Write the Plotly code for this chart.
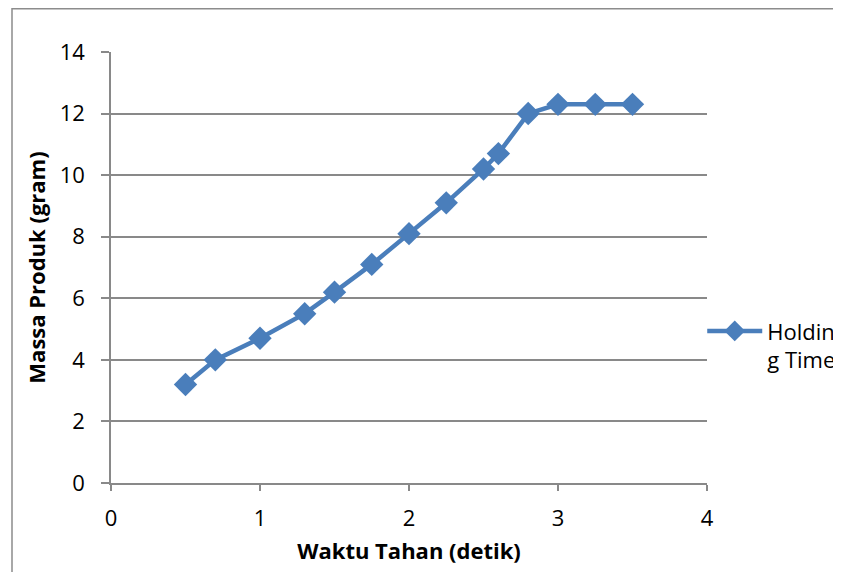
import plotly.graph_objects as go

waktu = [0.5, 0.7, 1.0, 1.3, 1.5, 1.75, 2.0, 2.25, 2.5, 2.6, 2.8, 3.0, 3.25, 3.5]
massa = [3.2, 4.0, 4.7, 5.5, 6.2, 7.1, 8.1, 9.1, 10.2, 10.7, 12.0, 12.3, 12.3, 12.3]
series_name = "Holdin<br>g Time"

W, H = 841, 572
L, T = 103, 44
pw, ph = 596, 431
R, B = W - L - pw, H - T - ph

fig = go.Figure()
fig.add_trace(go.Scatter(
    x=waktu, y=massa, name=series_name, mode="lines+markers",
    line=dict(color="#4a7ebb", width=4.5),
    marker=dict(symbol="diamond", size=18, color="#4a7ebb"),
    showlegend=True,
))

grid = "#898989"
fnt = "Open Sans, Lato, sans-serif"
fig.update_layout(
    width=W, height=H,
    margin=dict(l=L, r=R, t=T, b=B, autoexpand=False),
    paper_bgcolor="white", plot_bgcolor="white",
    font=dict(family=fnt, color="black", size=22),
    xaxis=dict(range=[0, 4], dtick=1, showgrid=False, zeroline=False,
               showline=True, linecolor=grid, linewidth=1.5,
               ticks="outside", ticklen=6, tickcolor=grid, tickwidth=1.5,
               tickfont=dict(size=22), ticklabelstandoff=9,
               title=dict(text="<b>Waktu Tahan (detik)</b>", font=dict(size=22), standoff=12)),
    yaxis=dict(range=[0, 14], dtick=2, showgrid=True, gridcolor=grid, gridwidth=1.5,
               zeroline=False, showline=True, linecolor=grid, linewidth=1.5,
               ticks="outside", ticklen=8, tickcolor=grid, tickwidth=1.5,
               tickfont=dict(size=22), ticklabelstandoff=12,
               title=dict(text="<b>Massa Produk (gram)</b>", font=dict(size=22), standoff=8)),
    legend=dict(x=0.992, y=0.401, xanchor="left", yanchor="top", valign="top",
                font=dict(size=22), itemwidth=55, bgcolor="rgba(0,0,0,0)",
                tracegroupgap=0),
    shapes=[dict(type="rect", xref="paper", yref="paper",
                 x0=(4 - L) / pw, x1=(W + 5 - L) / pw,
                 y0=-0.3, y1=(ph + T - 0.75) / ph,
                 line=dict(color="#8c8c8c", width=1.5), layer="below")],
)

fig.write_html("out.html")
